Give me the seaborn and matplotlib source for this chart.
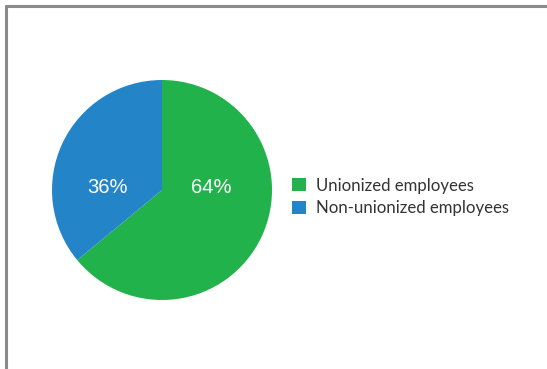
import matplotlib
matplotlib.use("Agg")
import matplotlib.pyplot as plt
import seaborn as sns
from matplotlib.patches import Patch
from matplotlib.lines import Line2D

categories = ["Unionized employees", "Non-unionized employees"]
values = [64, 36]
pct_labels = ["64%", "36%"]
colors = ["#22b24c", "#2384c8"]

sns.set_theme(style="white")
plt.rcParams['font.family'] = ['Lato', 'DejaVu Sans']

fig = plt.figure(figsize=(5.47, 3.69), dpi=100)
fig.patch.set_facecolor("white")

# frame lines (top and left)
fig.add_artist(Line2D([6/547, 1], [1 - 6/369, 1 - 6/369], transform=fig.transFigure,
                      color="#8a8a8a", lw=2.2))
fig.add_artist(Line2D([6/547, 6/547], [0, 1 - 6/369], transform=fig.transFigure,
                      color="#8a8a8a", lw=2.2))

ax = fig.add_axes([(162 - 110) / 547, (369 - 300) / 369, 220 / 547, 220 / 369])
wedges, texts = ax.pie(values, colors=sns.color_palette(colors), startangle=90,
                       counterclock=False, radius=1.0,
                       wedgeprops=dict(linewidth=0))
ax.set_aspect("equal")
ax.set_xlim(-1, 1)
ax.set_ylim(-1, 1)
ax.axis("off")

label_pos = [(0.45, 0.02), (-0.5, 0.02)]
for lab, pos in zip(pct_labels, label_pos):
    ax.text(pos[0], pos[1], lab, color="white", fontsize=14.5, ha="center", va="center",
            family=['Liberation Sans', 'DejaVu Sans'])

handles = [Patch(facecolor=c, edgecolor="none") for c in colors]
fig.legend(handles, categories, loc="center left", bbox_to_anchor=(292 / 547, 1 - 197 / 369),
           frameon=False, fontsize=12.1, handlelength=0.82, handleheight=0.82,
           handletextpad=0.6, labelspacing=0.4, borderaxespad=0, borderpad=0,
           labelcolor="#333333")

fig.savefig("out.png", dpi=100)
